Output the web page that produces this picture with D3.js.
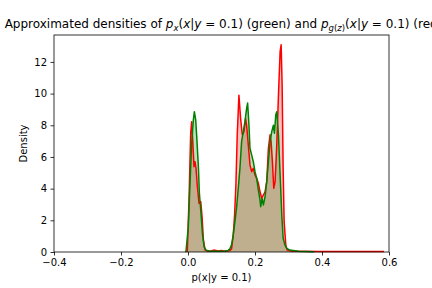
<html>
<head>
<meta charset="utf-8">
<title>KDE densities</title>
<style>
body { margin: 0; background: #fff; }
svg { font-family: "DejaVu Sans", sans-serif; }
</style>
<script src="https://d3js.org/d3.v7.min.js"></script>
</head>
<body>
<svg width="432" height="288"></svg>
<script>
// tick labels
var xTicks = [-0.4, -0.2, 0.0, 0.2, 0.4, 0.6];
var yTicks = [0, 2, 4, 6, 8, 10, 12];

// green: p_x(x|y=0.1)
var greenX = [-0.008, -0.006, 0.001, 0.006, 0.011, 0.016, 0.019, 0.023, 0.026, 0.031, 0.034, 0.038, 0.043, 0.048, 0.054,
  0.065, 0.08, 0.095, 0.11, 0.12, 0.125, 0.130, 0.135, 0.140, 0.145, 0.150, 0.155, 0.160, 0.165, 0.170, 0.175, 0.178,
  0.182, 0.185, 0.190, 0.195, 0.200, 0.205, 0.210, 0.215, 0.217, 0.221, 0.225, 0.230, 0.235, 0.240, 0.245, 0.250,
  0.255, 0.258, 0.262, 0.265, 0.270, 0.275, 0.280, 0.284, 0.290, 0.295, 0.304, 0.33, 0.376];
var greenY = [0, 0.05, 1.6, 4.34, 6.86, 8.34, 8.86, 8.34, 7.3, 5.39, 3.7, 2.65, 1.18, 0.33, 0.12,
  0.05, 0.04, 0.05, 0.06, 0.1, 0.2, 0.45, 1.07, 1.9, 2.8, 4.0, 5.28, 6.97, 7.6, 8.23, 9.07, 9.4,
  8.0, 6.55, 6.13, 5.7, 5.07, 4.65, 3.92, 3.28, 2.86, 3.39, 2.97, 3.5, 4.44, 5.7, 6.97, 7.6,
  8.0, 7.5, 8.65, 8.86, 7.4, 4.86, 2.34, 0.87, 0.4, 0.23, 0.12, 0.05, 0.02];

// red: p_g(z)(x|y=0.1)
var redX = [-0.004, -0.002, 0.003, 0.008, 0.011, 0.014, 0.018, 0.021, 0.024, 0.028, 0.033, 0.038, 0.042, 0.046, 0.051,
  0.06, 0.07, 0.08, 0.09, 0.10, 0.11, 0.12, 0.125, 0.130, 0.135, 0.139, 0.143, 0.147, 0.152, 0.157, 0.162, 0.167,
  0.172, 0.175, 0.180, 0.185, 0.190, 0.195, 0.200, 0.205, 0.210, 0.215, 0.220, 0.225, 0.230, 0.235, 0.240, 0.245,
  0.248, 0.252, 0.256, 0.260, 0.265, 0.270, 0.275, 0.278, 0.281, 0.284, 0.287, 0.292, 0.296, 0.31, 0.40, 0.50, 0.585];
var redY = [0, 0.1, 3.28, 7.5, 8.23, 7.07, 5.39, 5.7, 5.28, 4.12, 3.07, 3.18, 2.23, 0.76, 0.12,
  0.05, 0.08, 0.12, 0.06, 0.1, 0.05, 0.08, 0.1, 0.2, 1.07, 2.3, 4.23, 7.4, 9.9, 8.44, 7.4, 7.6,
  8.44, 8.0, 6.76, 5.5, 5.07, 5.28, 4.86, 4.65, 4.34, 3.8, 3.39, 3.6, 3.8, 4.44, 6.55, 7.4,
  6.97, 5.7, 4.02, 4.44, 6.76, 9.9, 12.65, 13.08, 10.55, 5.28, 1.9, 0.44, 0.12, 0.04, 0.03, 0.03, 0.03];

var svg = d3.select("svg"),
    margin = {top: 35, right: 43, bottom: 36, left: 54},
    width = 432 - margin.left - margin.right,
    height = 288 - margin.top - margin.bottom,
    g = svg.append("g").attr("transform", `translate(${margin.left},${margin.top})`);

var xScale = d3.scaleLinear().domain([-0.4, 0.6]).range([0, width]);
var yScale = d3.scaleLinear().domain([0, 13.7]).range([height, 0]);

var red = redX.map((x, i) => ({x: x, y: redY[i]}));
var green = greenX.map((x, i) => ({x: x, y: greenY[i]}));

var area = d3.area().x(d => xScale(d.x)).y0(yScale(0)).y1(d => yScale(d.y));
var line = d3.line().x(d => xScale(d.x)).y(d => yScale(d.y));

// fills
g.append("path").datum(red).attr("d", area).attr("fill", "red").attr("fill-opacity", 0.25);
g.append("path").datum(green).attr("d", area).attr("fill", "green").attr("fill-opacity", 0.25);
// lines
g.append("path").datum(red).attr("d", line).attr("fill", "none")
  .attr("stroke", "red").attr("stroke-width", 1.5).attr("stroke-linejoin", "round");
g.append("path").datum(green).attr("d", line).attr("fill", "none")
  .attr("stroke", "green").attr("stroke-width", 1.5).attr("stroke-linejoin", "round");

var fmt = d => d3.format(".1f")(d).replace("-", "\u2212");

var xAxis = g.append("g").attr("transform", `translate(0,${height})`)
  .call(d3.axisBottom(xScale).tickValues(xTicks).tickFormat(fmt).tickSize(3.5).tickPadding(3.5));
var yAxis = g.append("g")
  .call(d3.axisLeft(yScale).tickValues(yTicks).tickFormat(d3.format("d")).tickSize(3.5).tickPadding(3.5));
[xAxis, yAxis].forEach(a => {
  a.selectAll("text").attr("font-size", 10).attr("font-family", "DejaVu Sans").attr("fill", "#000");
  a.selectAll("line").attr("stroke", "#000").attr("stroke-width", 0.8);
  a.select(".domain").remove();
});

// frame
g.append("rect").attr("width", width).attr("height", height)
  .attr("fill", "none").attr("stroke", "#000").attr("stroke-width", 0.8);

// axis labels
svg.append("text").attr("x", margin.left + width / 2).attr("y", 281)
  .attr("text-anchor", "middle").attr("font-size", 10).text("p(x|y = 0.1)");
svg.append("text").attr("transform", `translate(27,${margin.top + height / 2}) rotate(-90)`)
  .attr("text-anchor", "middle").attr("font-size", 10).text("Density");

// title (centred on the axes, runs past the right edge like the original)
var title = svg.append("text").attr("x", margin.left + width / 2 + 2).attr("y", 28)
  .attr("text-anchor", "middle").attr("font-size", 12);
function part(t, opts) {
  var s = title.append("tspan").text(t);
  if (opts && opts.it) s.attr("font-style", "italic");
  if (opts && opts.sub) s.attr("font-size", 8.5).attr("dy", 2.5);
  if (opts && opts.up) s.attr("dy", -2.5);
  return s;
}
part("Approximated densities of ");
part("p", {it: 1}); part("x", {it: 1, sub: 1});
part("(", {up: 1}); part("x", {it: 1}); part("|"); part("y", {it: 1}); part(" = 0.1) (green) and ");
part("p", {it: 1}); part("g", {it: 1, sub: 1}); title.append("tspan").attr("font-size", 8.5).text("(");
title.append("tspan").attr("font-size", 8.5).attr("font-style", "italic").text("z");
title.append("tspan").attr("font-size", 8.5).text(")");
part("(", {up: 1}); part("x", {it: 1}); part("|"); part("y", {it: 1}); part(" = 0.1) (red)");
</script>
</body>
</html>
